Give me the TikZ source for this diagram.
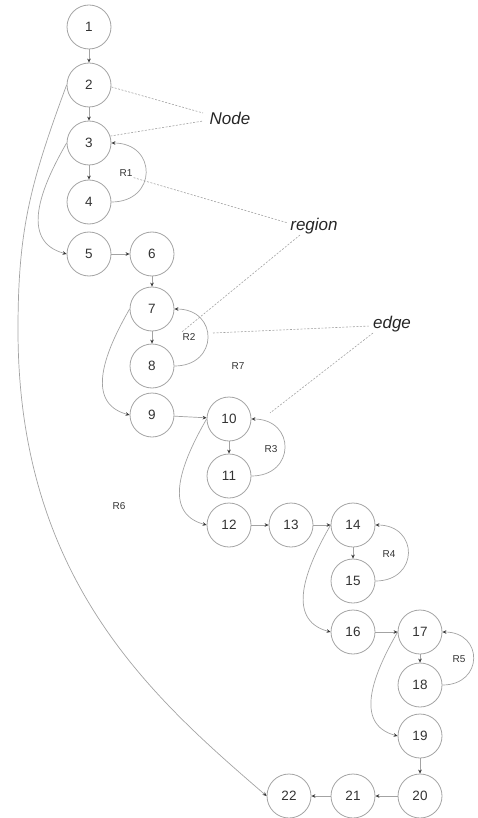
\documentclass[tikz,border=0pt]{standalone}
\usepackage{fontspec}
\setmainfont{Liberation Sans}
\usetikzlibrary{arrows.meta}
\definecolor{ln}{HTML}{A3A3A3}
\definecolor{txt}{HTML}{333333}
\definecolor{tip}{HTML}{3A3A3A}
\begin{document}
\begin{tikzpicture}[x=1pt,y=-1pt,
  vtx/.style={circle,draw=ln,line width=0.8pt,minimum size=44pt,inner sep=0pt,
    font=\fontsize{13.5}{15}\selectfont,text=txt},
  rlab/.style={inner sep=1pt,font=\fontsize{10}{12}\selectfont,text=txt},
  biglab/.style={inner sep=0pt,font=\fontsize{17}{20}\selectfont\itshape,text=black!85},
  arr/.style={draw=ln,line width=0.7pt,-{Stealth[length=4pt,width=3.6pt,color=tip]}},
  loopedge/.style={arr,out=0,in=0,looseness=2},
  leftedge/.style={arr,out=240,in=165,looseness=1.15},
  hint/.style={draw=ln,line width=0.6pt,dash pattern=on 2pt off 1.5pt}]
\useasboundingbox (0,0) rectangle (477,818);
% nodes
\node[vtx] (n1) at (89,27) {1};
\node[vtx] (n2) at (89,85) {2};
\node[vtx] (n3) at (89,143) {3};
\node[vtx] (n4) at (89,202) {4};
\node[vtx] (n5) at (89,254) {5};
\node[vtx] (n6) at (152,254) {6};
\node[vtx] (n7) at (152,309) {7};
\node[vtx] (n8) at (152,366) {8};
\node[vtx] (n9) at (152,415) {9};
\node[vtx] (n10) at (229,419) {10};
\node[vtx] (n11) at (229,476) {11};
\node[vtx] (n12) at (229,525) {12};
\node[vtx] (n13) at (291,525) {13};
\node[vtx] (n14) at (353,525) {14};
\node[vtx] (n15) at (353,581) {15};
\node[vtx] (n16) at (353,632) {16};
\node[vtx] (n17) at (420,632) {17};
\node[vtx] (n18) at (420,685) {18};
\node[vtx] (n19) at (420,736) {19};
\node[vtx] (n20) at (420,796) {20};
\node[vtx] (n21) at (353,796) {21};
\node[vtx] (n22) at (289,796) {22};
% region labels
\node[rlab] (r1) at (126,173) {R1};
\node[rlab] (r2) at (189,337) {R2};
\node[rlab] (r3) at (271,449) {R3};
\node[rlab] (r4) at (389,554) {R4};
\node[rlab] (r5) at (459,659) {R5};
\node[rlab] (r6) at (119,506) {R6};
\node[rlab] (r7) at (238,366) {R7};
% annotation labels
\node[biglab] (lnode) at (230,118) {Node};
\node[biglab] (lregion) at (314,226) {region};
\node[biglab] (ledge) at (392,324) {edge};
% straight edges
\draw[arr] (n1) -- (n2);
\draw[arr] (n2) -- (n3);
\draw[arr] (n3) -- (n4);
\draw[arr] (n5) -- (n6);
\draw[arr] (n6) -- (n7);
\draw[arr] (n7) -- (n8);
\draw[arr] (n9) -- (n10);
\draw[arr] (n10) -- (n11);
\draw[arr] (n12) -- (n13);
\draw[arr] (n13) -- (n14);
\draw[arr] (n14) -- (n15);
\draw[arr] (n16) -- (n17);
\draw[arr] (n17) -- (n18);
\draw[arr] (n19) -- (n20);
\draw[arr] (n20) -- (n21);
\draw[arr] (n21) -- (n22);
% loops
\draw[loopedge] (n4.east) to (n3.east);
\draw[loopedge] (n8.east) to (n7.east);
\draw[loopedge] (n11.east) to (n10.east);
\draw[loopedge] (n15.east) to (n14.east);
\draw[loopedge] (n18.east) to (n17.east);
% left curves
\draw[leftedge] (n3.west) to (n5.west);
\draw[leftedge] (n7.west) to (n9.west);
\draw[leftedge] (n10.west) to (n12.west);
\draw[leftedge] (n14.west) to (n16.west);
\draw[leftedge] (n17.west) to (n19.west);
% long edge 2 -> 22
\coordinate (via) at (18,330);
\draw[arr] (n2.west) .. controls (30,184) and (18,230) .. (via)
  .. controls (18,580) and (153,698) .. (n22.west);
% dashed annotation lines
\coordinate (a1) at (203,113);
\coordinate (a2) at (203,121);
\coordinate (a3) at (288,223);
\coordinate (a4) at (300,235);
\coordinate (a5) at (213,333);
\coordinate (a6) at (370,326);
\coordinate (a7) at (373,333);
\coordinate (a8) at (270,413);
\draw[hint] (n2.355) -- (a1);
\draw[hint] (n3.18) -- (a2);
\draw[hint] (r1.south east) -- (a3);
\draw[hint] (a4) -- (r2.north west);
\draw[hint] (a5) -- (a6);
\draw[hint] (a7) -- (a8);
\end{tikzpicture}
\end{document}
